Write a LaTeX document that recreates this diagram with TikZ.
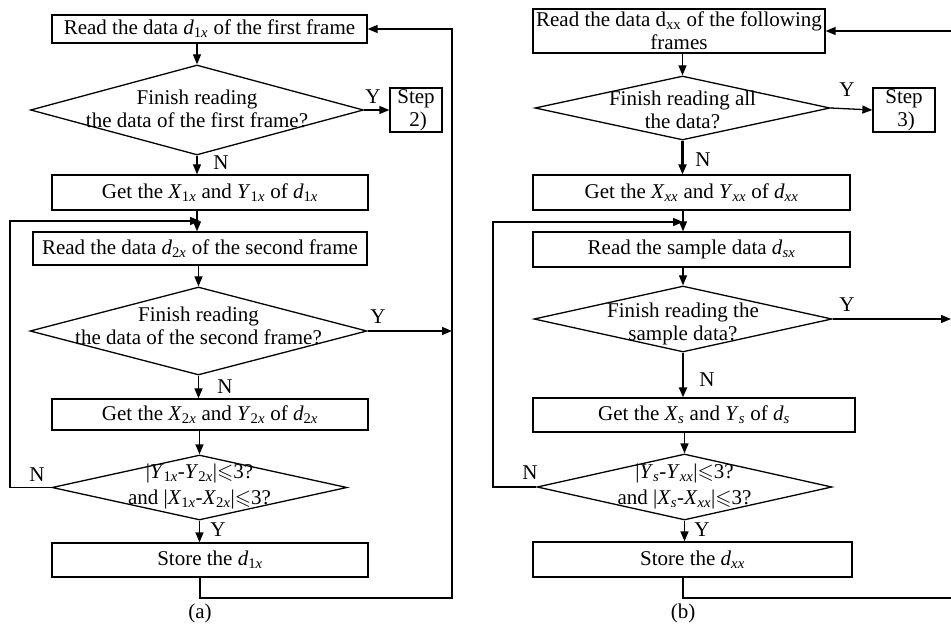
\documentclass[tikz,border=0pt]{standalone}
\usepackage{amssymb}
\usepackage{fontspec}
\setmainfont{Liberation Serif}
\usetikzlibrary{shapes.geometric,arrows.meta}
\newcommand\vv[2]{\textit{#1}\textsubscript{#2}}
\newcommand\lesl{$\leqslant$}
\newcommand\fz{\fontsize{21}{23}\selectfont}
\newcommand\fzw{\fontsize{21}{26}\selectfont}
\begin{document}
\begin{tikzpicture}[x=1pt,y=-1pt,line width=1.3pt,
  box/.style={draw,rectangle,inner sep=0pt,font=\fz,align=center},
  dia/.style={draw,diamond,inner sep=0pt},
  txt/.style={font=\fz,align=center,inner sep=0pt},
  txtw/.style={font=\fzw,align=center,inner sep=0pt},
  lbl/.style={font=\fz,inner sep=0pt},
  arr/.style={-{Triangle[length=10pt,width=8pt]}},
  thk/.style={line width=2.2pt}]
\useasboundingbox (0,0) rectangle (951,628);
% ---------------- panel (a)
\node[box,minimum width=315pt,minimum height=28pt] (a1) at (209.5,29) {Read the data \vv{d}{1\textit{x}} of the first frame};
\node[dia,minimum width=333pt,minimum height=90pt] (a2) at (197,110) {};
\node[txt] (a2t) at (197,108.5) {Finish reading\\the data of the first frame?};
\node[box,minimum width=52pt,minimum height=44pt] (s2) at (416,110) {Step\\\hspace*{4pt}2)};
\node[box,minimum width=316pt,minimum height=35pt] (a3) at (210,192.5) {Get the \vv{X}{1\textit{x}} and \vv{Y}{1\textit{x}} of \vv{d}{1\textit{x}}};
\node[box,minimum width=334pt,minimum height=33pt] (a4) at (200,248.5) {Read the data \vv{d}{2\textit{x}} of the second frame};
\node[dia,minimum width=337pt,minimum height=88pt] (a5) at (198.5,331) {};
\node[txt] (a5t) at (198.5,326) {Finish reading\\the data of the second frame?};
\node[box,minimum width=316pt,minimum height=31pt] (a6) at (210,414.5) {Get the \vv{X}{2\textit{x}} and \vv{Y}{2\textit{x}} of \vv{d}{2\textit{x}}};
\node[dia,minimum width=295pt,minimum height=65pt] (a7) at (199.5,487.5) {};
\node[txtw] (a7t) at (199.5,486.5) {|\vv{Y}{1\textit{x}}-\vv{Y}{2\textit{x}}|\lesl3?\\and |\vv{X}{1\textit{x}}-\vv{X}{2\textit{x}}|\lesl3?};
\node[box,minimum width=316pt,minimum height=34pt] (a8) at (210,560) {Store the \vv{d}{1\textit{x}}};
\coordinate (lA) at (10,221);
\coordinate (jA) at (200,221);
\coordinate (brA) at (452,598);
\draw[arr] (a1.south -| a2.north) -- (a2.north);
\draw[arr] (a2.east) -- (s2.west);
\draw[arr] (a2.south) -- (a2.south |- a3.north);
\draw[arr] (a3.south -| a2.south) -- (a4.north -| a2.south);
\draw[arr] (a4.south -| a5.north) -- (a5.north);
\draw[arr] (a5.east) -- (a5.east -| brA);
\draw[arr] (a5.south) -- (a5.south |- a6.north);
\draw[arr] (a6.south -| a7.north) -- (a7.north);
\draw[arr] (a7.south) -- (a7.south |- a8.north);
\draw[arr] (a7.west) -| (lA) -- (jA);
\draw[arr] (a8.south -| jA) |- (brA) |- (a1.east);
\node[lbl] (ya1) at (373,97) {Y};
\node[lbl] (na1) at (221,163) {N};
\node[lbl] (ya2) at (378,317) {Y};
\node[lbl] (na2) at (225,387) {N};
\node[lbl] (na3) at (37,475) {N};
\node[lbl] (ya3) at (218,530) {Y};
\node[lbl] (capa) at (200,613) {(a)};
% ---------------- panel (b)
\node[box,minimum width=292pt,minimum height=44pt] (b1) at (679,31) {Read the data d\textsubscript{xx} of the following\\frames};
\node[dia,minimum width=295pt,minimum height=64pt] (b2) at (682.5,108) {};
\node[txt] (b2t) at (682.5,110) {Finish reading all\\the data?};
\node[box,minimum width=62pt,minimum height=44pt] (s3) at (904,110) {Step\\\hspace*{4pt}3)};
\node[box,minimum width=317pt,minimum height=35pt] (b3) at (691.5,192.5) {Get the \vv{X}{\textit{xx}} and \vv{Y}{\textit{xx}} of \vv{d}{\textit{xx}}};
\node[box,minimum width=317pt,minimum height=35pt] (b4) at (691.5,249.5) {Read the sample data \vv{d}{\textit{sx}}};
\node[dia,minimum width=298pt,minimum height=66pt] (b5) at (683,319) {};
\node[txt] (b5t) at (683,324) {Finish reading the\\sample data?};
\node[box,minimum width=322pt,minimum height=34pt] (b6) at (694,415) {Get the \vv{X}{\textit{s}} and \vv{Y}{\textit{s}} of \vv{d}{\textit{s}}};
\node[dia,minimum width=295pt,minimum height=66pt] (b7) at (684.5,487) {};
\node[txtw] (b7t) at (684.5,486) {|\vv{Y}{\textit{s}}-\vv{Y}{\textit{xx}}|\lesl3?\\and |\vv{X}{\textit{s}}-\vv{X}{\textit{xx}}|\lesl3?};
\node[box,minimum width=319pt,minimum height=35pt] (b8) at (692.5,559.5) {Store the \vv{d}{\textit{xx}}};
\coordinate (lB) at (493,222);
\coordinate (jB) at (683,222);
\coordinate (brB) at (951,598);
\coordinate (trB) at (951,31);
\draw[arr] (trB) -- (b1.east);
\draw[arr] (b1.south -| b2.north) -- (b2.north);
\draw[arr] (b2.east) -- (s3.west);
\draw[arr,thk] (b2.south) -- (b2.south |- b3.north);
\draw[arr] (b3.south -| jB) -- (b4.north -| jB);
\draw[arr] (b4.south -| b5.north) -- (b5.north);
\draw[arr] (b5.east) -- (b5.east -| brB);
\draw[arr,thk] (b5.south) -- (b5.south |- b6.north);
\draw[arr] (b6.south -| b7.north) -- (b7.north);
\draw[arr] (b7.south) -- (b7.south |- b8.north);
\draw[arr] (b7.west) -| (lB) -- (jB);
\draw (b8.south -| jB) |- (brB);
\node[lbl] (yb1) at (847,90) {Y};
\node[lbl] (nb1) at (703,160) {N};
\node[lbl] (yb2) at (847,305) {Y};
\node[lbl] (nb2) at (707,380) {N};
\node[lbl] (nb3) at (530,473) {N};
\node[lbl] (yb3) at (702,530) {Y};
\node[lbl] (capb) at (683,613) {(b)};
\end{tikzpicture}
\end{document}
